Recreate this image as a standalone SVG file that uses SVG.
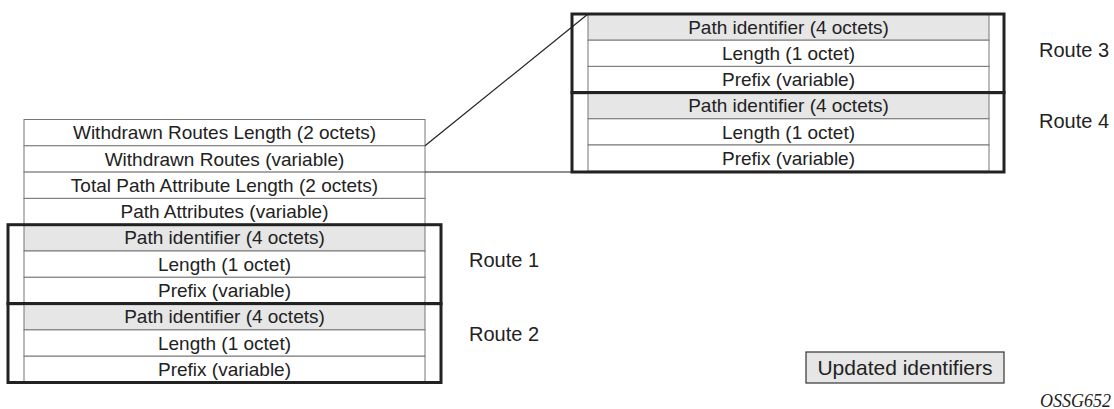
<svg xmlns="http://www.w3.org/2000/svg" width="1114" height="409" viewBox="0 0 1114 409">
<style>
.cell{fill:#fff;stroke:#777;stroke-width:1}
.pid{fill:#e6e6e6;stroke:#777;stroke-width:1}
.t{font-family:"Liberation Sans",Arial,sans-serif;font-size:19px;fill:#222;text-anchor:middle}
.r{font-family:"Liberation Sans",Arial,sans-serif;font-size:20px;fill:#222}
.thick{fill:none;stroke:#222;stroke-width:3}
.conn{fill:none;stroke:#222;stroke-width:1.2}
</style>
<rect width="1114" height="409" fill="#fff"/>
<g id="header">
<rect class="cell" x="24" y="119.5" width="401" height="26.3"/>
<text class="t" x="224.5" y="139.2">Withdrawn Routes Length (2 octets)</text>
<rect class="cell" x="24" y="145.8" width="401" height="26.3"/>
<text class="t" x="224.5" y="165.5">Withdrawn Routes (variable)</text>
<rect class="cell" x="24" y="172.1" width="401" height="26.3"/>
<text class="t" x="224.5" y="191.8">Total Path Attribute Length (2 octets)</text>
<rect class="cell" x="24" y="198.4" width="401" height="26.3"/>
<text class="t" x="224.5" y="218.1">Path Attributes (variable)</text>
</g>
<g id="route1">
<rect fill="#fff" x="8" y="224.7" width="433" height="78.9"/>
<rect class="pid" x="24" y="224.7" width="401" height="26.3"/>
<text class="t" x="224.5" y="244.4">Path identifier (4 octets)</text>
<rect class="cell" x="24" y="251" width="401" height="26.3"/>
<text class="t" x="224.5" y="270.7">Length (1 octet)</text>
<rect class="cell" x="24" y="277.3" width="401" height="26.3"/>
<text class="t" x="224.5" y="297">Prefix (variable)</text>
<rect class="thick" x="8" y="224.7" width="433" height="78.9"/>
<text class="r" x="469" y="267">Route 1</text>
</g>
<g id="route2">
<rect class="pid" x="24" y="303.6" width="401" height="26.3"/>
<text class="t" x="224.5" y="323.3">Path identifier (4 octets)</text>
<rect class="cell" x="24" y="329.9" width="401" height="26.3"/>
<text class="t" x="224.5" y="349.6">Length (1 octet)</text>
<rect class="cell" x="24" y="356.2" width="401" height="26.3"/>
<text class="t" x="224.5" y="375.9">Prefix (variable)</text>
<rect class="thick" x="8" y="303.6" width="433" height="78.9"/>
<text class="r" x="469" y="341">Route 2</text>
</g>
<g id="route3">
<rect class="pid" x="588" y="14" width="401" height="26.2"/>
<text class="t" x="788.5" y="33.7">Path identifier (4 octets)</text>
<rect class="cell" x="588" y="40.2" width="401" height="26.2"/>
<text class="t" x="788.5" y="59.9">Length (1 octet)</text>
<rect class="cell" x="588" y="66.4" width="401" height="26.2"/>
<text class="t" x="788.5" y="86.1">Prefix (variable)</text>
<rect class="thick" x="572" y="14" width="432" height="78.6"/>
<text class="r" x="1039" y="57">Route 3</text>
</g>
<g id="route4">
<rect class="pid" x="588" y="92.6" width="401" height="26.2"/>
<text class="t" x="788.5" y="112.3">Path identifier (4 octets)</text>
<rect class="cell" x="588" y="118.8" width="401" height="26.2"/>
<text class="t" x="788.5" y="138.5">Length (1 octet)</text>
<rect class="cell" x="588" y="145" width="401" height="26.2"/>
<text class="t" x="788.5" y="164.7">Prefix (variable)</text>
<rect class="thick" x="572" y="92.6" width="432" height="79.4"/>
<text class="r" x="1039" y="128">Route 4</text>
</g>
<g id="connectors">
<line class="conn" x1="425" y1="145.8" x2="588" y2="14"/>
<line class="conn" x1="425" y1="172" x2="572" y2="172"/>
</g>
<g id="legend">
<rect x="806" y="352" width="198" height="31" fill="#e6e6e6" stroke="#333" stroke-width="1.2"/>
<text x="905" y="374.5" font-family="'Liberation Sans',Arial,sans-serif" font-size="21" fill="#222" text-anchor="middle">Updated identifiers</text>
</g>
<text x="1111" y="407" font-family="'Liberation Serif','Times New Roman',serif" font-style="italic" font-size="18" fill="#222" text-anchor="end">OSSG652</text>
</svg>
